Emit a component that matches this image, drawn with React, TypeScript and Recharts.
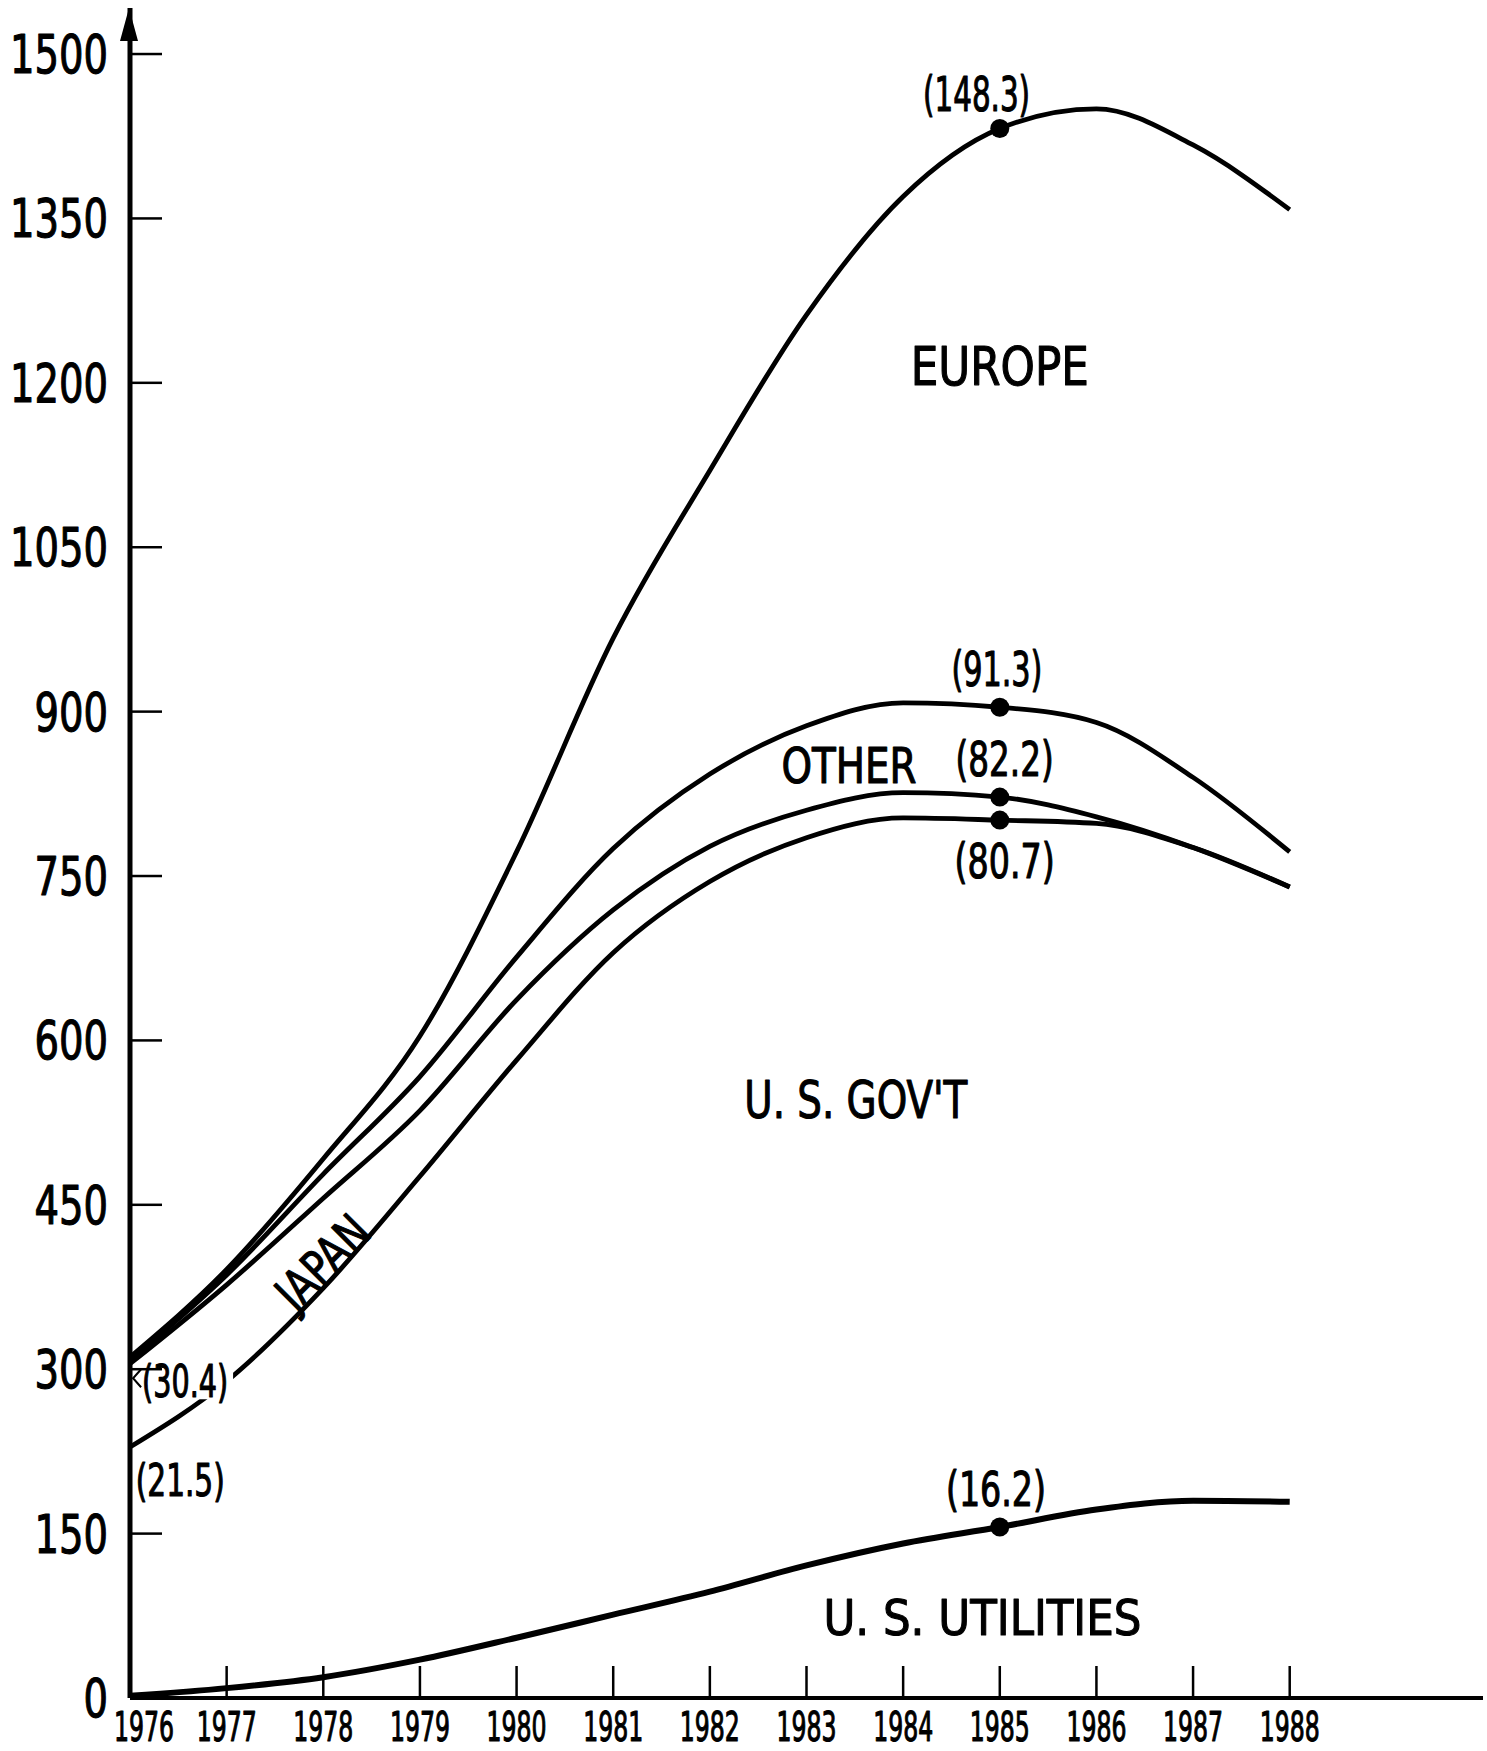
import React from "react";
import { LineChart, Line, XAxis, YAxis, ReferenceDot } from "recharts";

const FONT = "'DejaVu Sans Condensed', 'Liberation Sans', sans-serif";

// years on the horizontal axis
const years = [1976, 1977, 1978, 1979, 1980, 1981, 1982, 1983, 1984, 1985, 1986, 1987, 1988];
const yTicks = [0, 150, 300, 450, 600, 750, 900, 1050, 1200, 1350, 1500];

// cumulative curves
const utilities = [2, 9, 19, 35, 55, 76, 97, 121, 141, 156, 172, 180, 179];
const govtTop = [229, 289, 374, 476, 582, 680, 745, 785, 803, 801, 798, 776, 740];
const japanTop = [305, 377, 456, 536, 637, 719, 777, 810, 826, 822, 804, 776, 740];
const otherTop = [308, 386, 478, 567, 676, 775, 843, 887, 908, 904, 890, 840, 772];
const europeTop = [311, 391, 492, 604, 772, 967, 1120, 1262, 1370, 1432, 1450, 1417, 1358];

const MARK_YEAR = 1985;

const data = years.map((year, i) => ({
  year,
  utilities: utilities[i],
  govt: govtTop[i],
  japan: japanTop[i],
  other: otherTop[i],
  europe: europeTop[i],
}));

const inkText = { fill: "#000", stroke: "#000", strokeWidth: 1.1, strokeLinejoin: "round" as const };

const YTick = ({ x, y, payload }: any) => {
  const s = String(payload.value);
  return (
    <g>
      <line x1={x} y1={y} x2={x + 32} y2={y} stroke="#000" strokeWidth={2.5} />
      <text
        x={x - 22}
        y={y}
        dy={19}
        textAnchor="end"
        fontSize={53}
        fontFamily={FONT}
        textLength={s.length * 24.5}
        lengthAdjust="spacingAndGlyphs"
        {...inkText}
      >
        {s}
      </text>
    </g>
  );
};

const XTick = ({ x, y, payload, index }: any) => (
  <g>
    <line x1={x} y1={y} x2={x} y2={y - 32} stroke="#000" strokeWidth={2.5} />
    <text
      x={x + (index === 0 ? 14 : 0)}
      y={y}
      dy={43}
      textAnchor="middle"
      fontSize={40}
      fontFamily={FONT}
      textLength={60}
      lengthAdjust="spacingAndGlyphs"
      {...inkText}
    >
      {payload.value}
    </text>
  </g>
);

const markDot = (props: any) => {
  const { cx, cy, payload, index } = props;
  if (payload.year !== MARK_YEAR) return <g key={index} />;
  return <circle key={index} cx={cx} cy={cy} r={9.5} fill="#000" />;
};

const textLabel =
  (text: string, size: number, width: number, opts: { rotate?: number; backdrop?: boolean; pointer?: boolean } = {}) =>
  ({ viewBox }: any) => {
    const x = viewBox.x + (viewBox.width || 0) / 2;
    const y = viewBox.y + (viewBox.height || 0) / 2;
    const left = x - width / 2;
    return (
      <g>
        {opts.backdrop && <rect x={left - 1} y={y - 17} width={width + 6} height={35} fill="#fff" />}
        {opts.pointer && (
          <path
            d={`M${left - 1},${y - 12} L${left - 9},${y - 3} L${left - 1},${y + 6}`}
            stroke="#000"
            strokeWidth={2}
            fill="none"
          />
        )}
        <text
          x={x}
          y={y}
          dy={size * 0.36}
          textAnchor="middle"
          fontSize={size}
          fontFamily={FONT}
          textLength={width}
          lengthAdjust="spacingAndGlyphs"
          transform={opts.rotate ? `rotate(${opts.rotate} ${x} ${y})` : undefined}
          {...inkText}
        >
          {text}
        </text>
      </g>
    );
  };

const AxisArrow = ({ cx, cy }: any) => (
  <path d={`M${cx - 1},${cy} L${cx - 10},${cy + 33} L${cx + 8},${cy + 33} Z`} fill="#000" />
);

const App = () => {
  return (
    <div style={{ width: 1487, height: 1751, background: "#fff" }}>
      <style>{"body{margin:0;background:#fff}"}</style>
      <LineChart width={1487} height={1751} data={data} margin={{ top: 8, right: 4, bottom: 0, left: 0 }}>
        <XAxis
          dataKey="year"
          type="number"
          domain={[1976, 1990]}
          ticks={years}
          allowDataOverflow
          height={53}
          tickSize={0}
          tickMargin={0}
          tickLine={false}
          axisLine={{ stroke: "#000", strokeWidth: 4 }}
          tick={<XTick />}
          interval={0}
        />
        <YAxis
          type="number"
          domain={[0, 1542]}
          ticks={yTicks}
          allowDataOverflow
          width={130}
          tickSize={0}
          tickMargin={0}
          tickLine={false}
          axisLine={{ stroke: "#000", strokeWidth: 5 }}
          tick={<YTick />}
          interval={0}
        />
        <Line dataKey="utilities" type="monotone" stroke="#000" strokeWidth={6} dot={markDot} activeDot={false} isAnimationActive={false} />
        <Line dataKey="govt" type="monotone" stroke="#000" strokeWidth={4.8} dot={markDot} activeDot={false} isAnimationActive={false} />
        <Line dataKey="japan" type="monotone" stroke="#000" strokeWidth={4.8} dot={markDot} activeDot={false} isAnimationActive={false} />
        <Line dataKey="other" type="monotone" stroke="#000" strokeWidth={4.8} dot={markDot} activeDot={false} isAnimationActive={false} />
        <Line dataKey="europe" type="monotone" stroke="#000" strokeWidth={4.8} dot={markDot} activeDot={false} isAnimationActive={false} />

        <ReferenceDot x={1976} y={1542} r={0} ifOverflow="visible" shape={<AxisArrow />} />

        <ReferenceDot x={1984.76} y={1464} r={0} ifOverflow="visible" label={textLabel("(148.3)", 48, 107)} />
        <ReferenceDot x={1985.0} y={1215} r={0} ifOverflow="visible" label={textLabel("EUROPE", 53, 178)} />
        <ReferenceDot x={1984.97} y={939} r={0} ifOverflow="visible" label={textLabel("(91.3)", 48, 91)} />
        <ReferenceDot x={1983.44} y={851} r={0} ifOverflow="visible" label={textLabel("OTHER", 50, 135)} />
        <ReferenceDot x={1985.05} y={857} r={0} ifOverflow="visible" label={textLabel("(82.2)", 48, 98)} />
        <ReferenceDot x={1985.05} y={764} r={0} ifOverflow="visible" label={textLabel("(80.7)", 48, 100)} />
        <ReferenceDot x={1983.51} y={546} r={0} ifOverflow="visible" label={textLabel("U. S.  GOV'T", 52, 223)} />
        <ReferenceDot x={1977.99} y={398} r={0} ifOverflow="visible" label={textLabel("JAPAN", 48, 110, { rotate: -45 })} />
        <ReferenceDot x={1976.57} y={289} r={0} ifOverflow="visible" label={textLabel("(30.4)", 44, 86, { backdrop: true, pointer: true })} />
        <ReferenceDot x={1976.52} y={199} r={0} ifOverflow="visible" label={textLabel("(21.5)", 44, 89)} />
        <ReferenceDot x={1984.96} y={191} r={0} ifOverflow="visible" label={textLabel("(16.2)", 48, 100)} />
        <ReferenceDot x={1984.82} y={74} r={0} ifOverflow="visible" label={textLabel("U. S.  UTILITIES", 50, 318)} />
      </LineChart>
    </div>
  );
};

export default App;
